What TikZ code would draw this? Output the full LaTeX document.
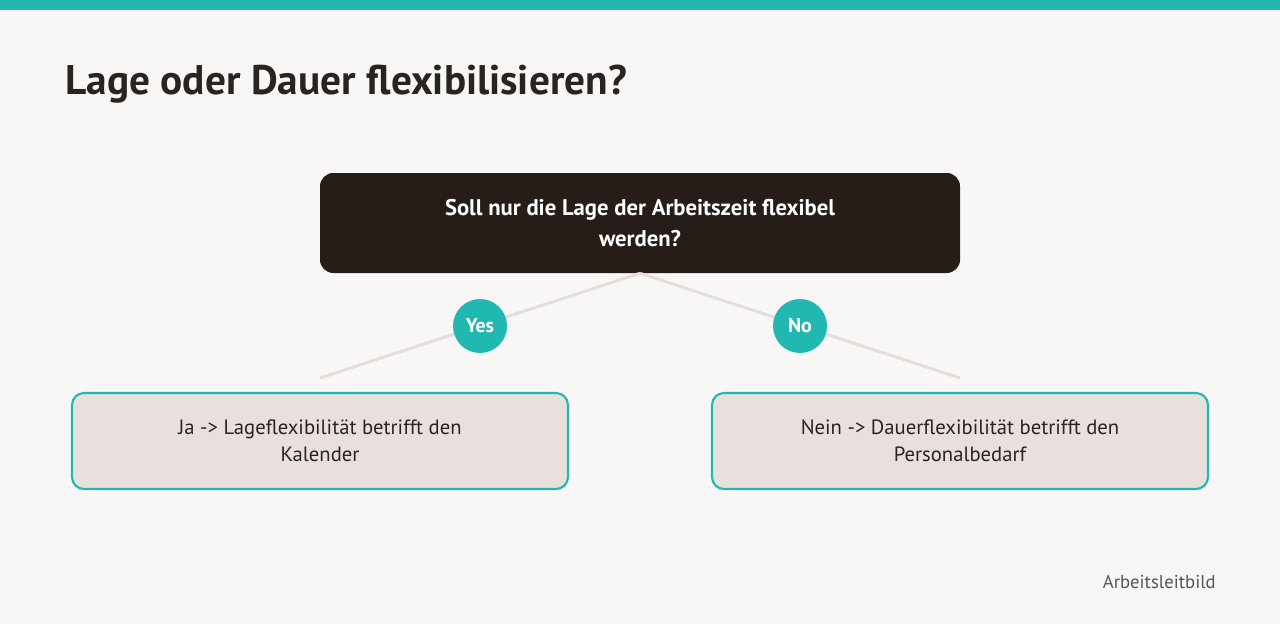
\documentclass[tikz,border=0pt]{standalone}
\usepackage{fontspec}
\setmainfont{PT Sans}
\definecolor{bg}{HTML}{F8F7F5}
\definecolor{teal}{HTML}{20B8B0}
\definecolor{dark}{HTML}{261C18}
\definecolor{lightbox}{HTML}{E8E0DD}
\definecolor{connector}{HTML}{E4DEDA}
\definecolor{txt}{HTML}{2A2420}
\definecolor{foot}{HTML}{5A5552}
\tikzset{
  question/.style={fill=dark, rounded corners=10pt, text=white, align=center, inner sep=0pt,
    minimum width=480pt, minimum height=75pt, font=\bfseries\fontsize{17}{23.5}\selectfont},
  answer/.style={fill=lightbox, draw=teal, line width=1.6pt, rounded corners=9pt, text=txt,
    align=center, inner sep=0pt, minimum width=372pt, minimum height=72pt,
    font=\fontsize{15.5}{20.5}\selectfont},
  badge/.style={circle, fill=teal, text=white, inner sep=0pt, minimum size=40.5pt,
    font=\bfseries\fontsize{15}{18}\selectfont},
  link/.style={draw=connector, line width=2.2pt},
}
\begin{document}
\begin{tikzpicture}[x=0.75pt,y=-0.75pt]
\useasboundingbox (0,0) rectangle (1280,624);
\fill[bg] (0,0) rectangle (1280,624);
\fill[teal] (0,0) rectangle (1280,10);
\node[anchor=base west, inner sep=0pt, text=txt, font=\bfseries\fontsize{31}{38}\selectfont] (title) at (65,95) {Lage oder Dauer flexibilisieren?};
\coordinate (lend) at (320,378);
\coordinate (rend) at (960,378);
\node[question] (q) at (640,223) {Soll nur die Lage der Arbeitszeit flexibel\\werden?};
\draw[link] (q.south) -- (lend);
\draw[link] (q.south) -- (rend);
\node[badge] (yes) at (480,326) {Yes};
\node[badge] (no) at (800,326) {No};
\node[answer] (ja) at (320,441) {Ja -> Lageflexibilität betrifft den\\Kalender};
\node[answer] (nein) at (960,441) {Nein -> Dauerflexibilität betrifft den\\Personalbedarf};
\node[anchor=base east, inner sep=0pt, text=foot, font=\fontsize{14}{16}\selectfont] (footer) at (1216,588) {Arbeitsleitbild};
\end{tikzpicture}
\end{document}
